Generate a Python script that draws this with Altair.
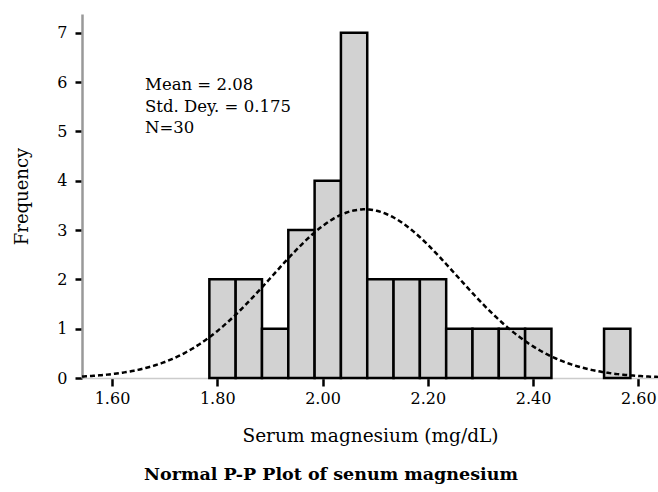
import altair as alt
import numpy as np
import pandas as pd

# Histogram data (bin edges in mg/dL, counts)
bin_start = [1.785, 1.835, 1.885, 1.935, 1.985, 2.035, 2.085, 2.135, 2.185, 2.235, 2.285, 2.335, 2.385, 2.535]
bin_end   = [1.835, 1.885, 1.935, 1.985, 2.035, 2.085, 2.135, 2.185, 2.235, 2.285, 2.335, 2.385, 2.435, 2.585]
counts    = [2, 2, 1, 3, 4, 7, 2, 2, 2, 1, 1, 1, 1, 1]

x_ticks = [1.60, 1.80, 2.00, 2.20, 2.40, 2.60]
y_ticks = [0, 1, 2, 3, 4, 5, 6, 7]

mean_val = 2.08
std_val = 0.175
n_val = 30
bin_width = 0.05
stats_text = "Mean = 2.08\nStd. Dey. = 0.175\nN=30"

x_domain = [1.543, 2.6375]
y_domain = [0, 7.38]

FONT = "DejaVu Serif"

bars_df = pd.DataFrame({"start": bin_start, "end": bin_end, "count": counts})

# Fitted normal curve defined by the stated mean / std / N
xs = np.linspace(x_domain[0], x_domain[1], 300)
ys = n_val * bin_width * np.exp(-0.5 * ((xs - mean_val) / std_val) ** 2) / (std_val * np.sqrt(2 * np.pi))
curve_df = pd.DataFrame({"x": xs, "y": ys})

xscale = alt.Scale(domain=x_domain, nice=False, zero=False)
yscale = alt.Scale(domain=y_domain, nice=False)

x_axis = alt.Axis(
    values=x_ticks, format=".2f", title="Serum magnesium (mg/dL)",
    domainColor="#cccccc", domainWidth=1.5,
    tickColor="black", tickWidth=2.5, tickSize=8,
    labelFont=FONT, labelFontSize=16, labelColor="black", labelPadding=4,
    titleFont=FONT, titleFontSize=18.5, titleFontWeight="normal", titleColor="black",
    titlePadding=20, grid=False,
)
y_axis = alt.Axis(
    values=y_ticks, format="d", title="Frequency",
    domainColor="#999999", domainWidth=2.5,
    tickColor="black", tickWidth=2.5, tickSize=7,
    labelFont=FONT, labelFontSize=16, labelColor="black", labelPadding=8,
    titleFont=FONT, titleFontSize=18, titleFontWeight="normal", titleColor="black",
    titlePadding=25, grid=False,
)

bars = alt.Chart(bars_df).mark_rect(
    fill="#d2d2d2", stroke="black", strokeWidth=2.5
).encode(
    x=alt.X("start:Q", scale=xscale, axis=x_axis),
    x2="end:Q",
    y=alt.Y("count:Q", scale=yscale, axis=y_axis),
    y2=alt.datum(0),
)

curve = alt.Chart(curve_df).mark_line(
    color="black", strokeWidth=2.5, strokeDash=[5, 3], clip=True
).encode(
    x=alt.X("x:Q", scale=xscale),
    y=alt.Y("y:Q", scale=yscale),
)

stats = alt.Chart(pd.DataFrame({"t": [stats_text]})).mark_text(
    align="left", baseline="middle", font=FONT, fontSize=16.5, color="black",
    lineBreak="\n", lineHeight=21.5,
).encode(
    x=alt.value(63),
    y=alt.value(71),
    text="t:N",
)

chart = alt.layer(bars, curve, stats).properties(
    width=576, height=364,
    padding={"left": 82, "top": 14, "right": 0, "bottom": 114},
    autosize="none",
    view=alt.ViewBackground(stroke="transparent", strokeWidth=0),
    title=alt.TitleParams(
        "Normal P-P Plot of senum magnesium", orient="bottom", anchor="middle",
        font=FONT, fontSize=17.5, fontWeight="bold", color="black", offset=21, dx=-39,
    ),
).configure_view(stroke="transparent", strokeWidth=0).configure(background="white")

chart.save("out.html", embed_options={"renderer": "svg", "actions": False})
